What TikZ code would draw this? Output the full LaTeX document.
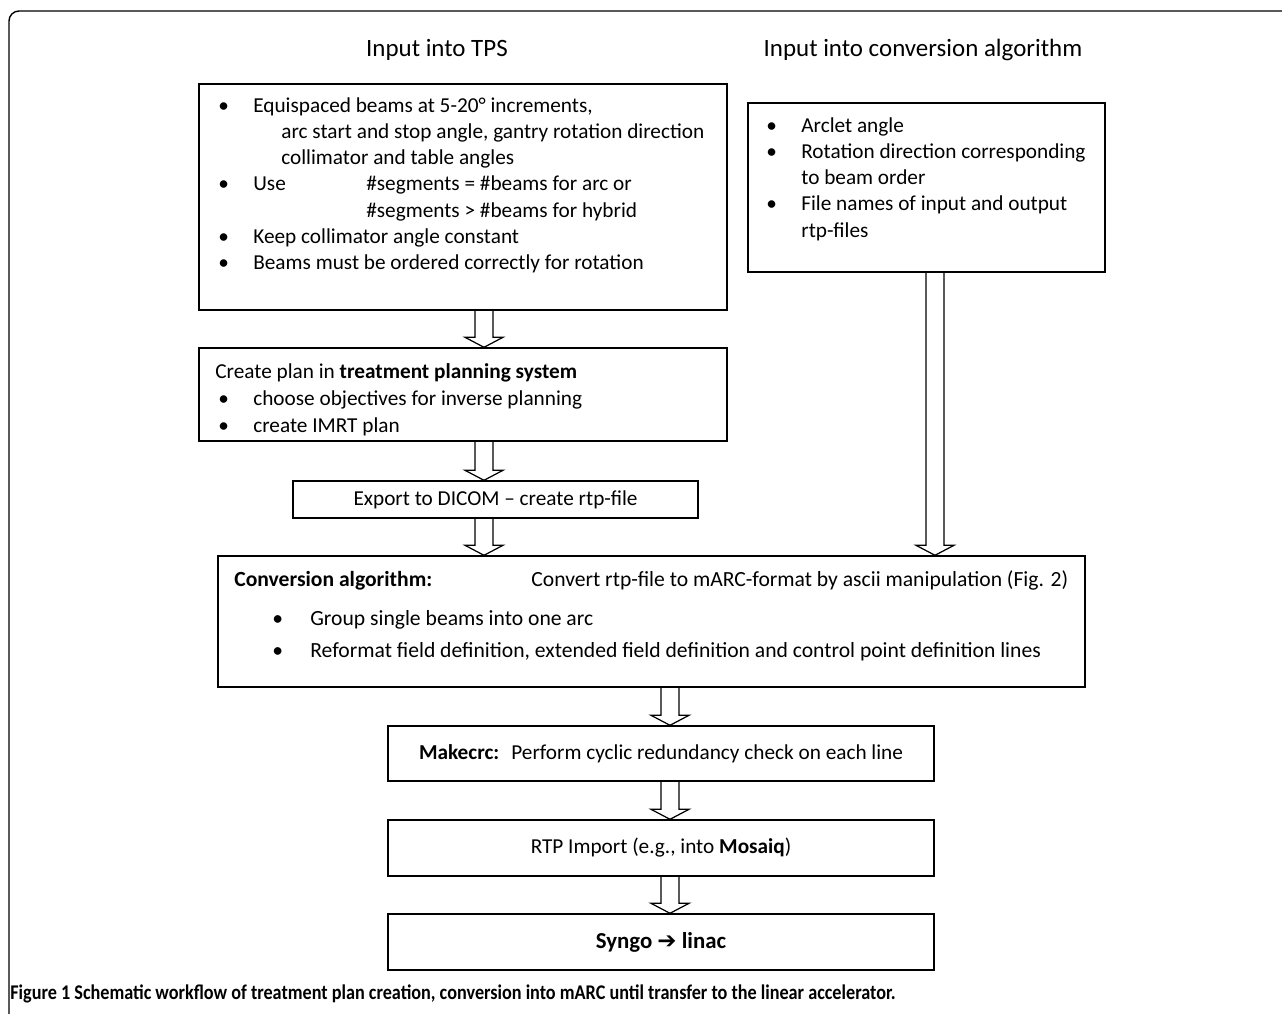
\documentclass[tikz,border=0pt]{standalone}
\usepackage{fontspec}
\setmainfont{Carlito}
\newfontfamily\capfont[FakeStretch=0.87]{Carlito}
\newfontfamily\symfont{DejaVu Sans}
\usetikzlibrary{fit,calc}

\newcommand{\bodysize}{\fontsize{12.1pt}{14.96pt}\selectfont}
\newcommand{\bul}{\makebox[0.70cm][l]{\textbullet}}

\tikzset{
  box/.style={draw, line width=0.8pt, inner sep=0pt},
  txt/.style={anchor=base west, inner sep=0pt, font=\bodysize},
  ctxt/.style={inner sep=0pt, font=\bodysize},
  head/.style={inner sep=0pt, font=\fontsize{14.2pt}{17pt}\selectfont},
  hollow/.style={draw, line width=0.7pt, line join=miter,
    to path={let \p1=(\tikztostart), \p2=(\tikztotarget) in
      (\x1-0.18cm,\y1) -- (\x1-0.18cm,\y2+0.2cm) -- (\x1-0.38cm,\y2+0.2cm)
      -- (\x1,\y2) -- (\x1+0.38cm,\y2+0.2cm) -- (\x1+0.18cm,\y2+0.2cm)
      -- (\x1+0.18cm,\y1)}},
}

\begin{document}
\begin{tikzpicture}[x=0.02cm, y=-0.02cm]
    \useasboundingbox (0,0) rectangle (1282,1014);
    \draw[line width=0.8pt, rounded corners=0.2cm] (9,1030) -- (9,11) -- (1290,11); % frame

    % headings
    \node[head] (hTPS) at (437,50) {Input into TPS};
    \node[head] (hConv) at (923,50) {Input into conversion algorithm};

    % boxes
    \node[box, fit={(199,84) (727,310)}] (inA) {};
    \node[box, fit={(748,103) (1105,272)}] (inB) {};
    \node[box, fit={(199,348) (727,441)}] (plan) {};
    \node[box, fit={(293,481) (698,518)}] (dicom) {};
    \node[box, fit={(218,556) (1085,687)}] (conv) {};
    \node[box, fit={(388,726) (934,781)}] (crc) {};
    \node[box, fit={(388,820) (934,876)}] (rtp) {};
    \node[box, fit={(388,914) (934,970)}] (syngo) {};

    % texts
    \node[txt] (tA) at (218,112) {\begin{tabular}[t]{@{}l@{}}
        \bul Equispaced beams at 5-20° increments,\\
        \hspace*{1.26cm}arc start and stop angle, gantry rotation direction\\
        \hspace*{1.26cm}collimator and table angles\\
        \bul \makebox[2.26cm][l]{Use}\#segments = \#beams for arc or\\
        \hspace*{2.96cm}\#segments > \#beams for hybrid\\
        \bul Keep collimator angle constant\\
        \bul Beams must be ordered correctly for rotation
      \end{tabular}};
    \node[txt] (tB) at (766,132) {\begin{tabular}[t]{@{}l@{}}
        \bul Arclet angle\\
        \bul Rotation direction corresponding\\
        \hspace*{0.70cm}to beam order\\
        \bul File names of input and output\\
        \hspace*{0.70cm}rtp-files
      \end{tabular}};
    \node[txt] (tC) at (215,378) {Create plan in \textbf{treatment planning system}};
    \node[txt] (tC1) at (218,405) {\bul choose objectives for inverse planning};
    \node[txt] (tC2) at (218,432) {\bul create IMRT plan};
    \node[ctxt] (tD) at (dicom.center) {Export to DICOM – create rtp-file};
    \node[txt, font=\fontsize{12.3pt}{15pt}\selectfont] (tE) at (234,586) {\textbf{Conversion algorithm:}};
    \node[txt, font=\fontsize{12.3pt}{15pt}\selectfont] (tE0) at (531,586) {Convert rtp-file to mARC-format by ascii manipulation (Fig. 2)};
    \node[txt, font=\fontsize{12.3pt}{15pt}\selectfont] (tE1) at (272,625) {\makebox[0.76cm][l]{\textbullet}Group single beams into one arc};
    \node[txt, font=\fontsize{12.3pt}{15pt}\selectfont] (tE2) at (272,657) {\makebox[0.76cm][l]{\textbullet}Reformat field definition, extended field definition and control point definition lines};
    \node[ctxt] (tF) at (crc.center) {\textbf{Makecrc:}\hspace{0.24cm}Perform cyclic redundancy check on each line};
    \node[ctxt] (tG) at (rtp.center) {RTP Import (e.g., into \textbf{Mosaiq})};
    \node[ctxt, font=\fontsize{13pt}{15pt}\selectfont] (tH) at (syngo.center) {\textbf{Syngo {\symfont ➔} linac}};

    % arrows
    \coordinate (colL) at (484,0);
    \coordinate (colM) at (670,0);
    \coordinate (colR) at (935,0);
    \draw[hollow] (inA.south -| colL) to (plan.north -| colL);
    \draw[hollow] (plan.south -| colL) to (dicom.north -| colL);
    \draw[hollow] (dicom.south -| colL) to (conv.north -| colL);
    \draw[hollow] (inB.south -| colR) to (conv.north -| colR);
    \draw[hollow] (conv.south -| colM) to (crc.north -| colM);
    \draw[hollow] (crc.south -| colM) to (rtp.north -| colM);
    \draw[hollow] (rtp.south -| colM) to (syngo.north -| colM);

    % caption
    \node[anchor=base west, inner sep=0pt, font=\capfont\bfseries\fontsize{11.9pt}{14pt}\selectfont] (cap) at (10,999)
      {Figure 1 Schematic workflow of treatment plan creation, conversion into mARC until transfer to the linear accelerator.};
\end{tikzpicture}
\end{document}
